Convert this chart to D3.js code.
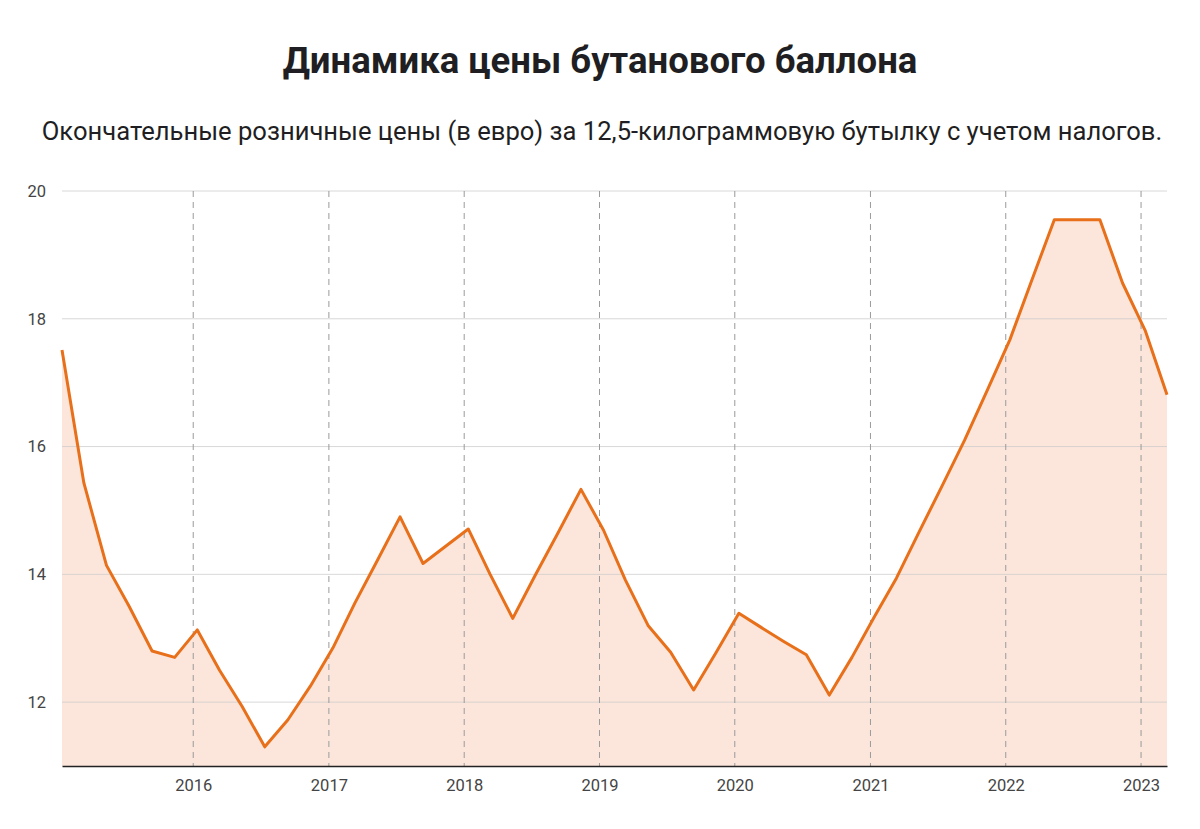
<!DOCTYPE html>
<html>
<head>
<meta charset="utf-8">
<script src="https://cdn.jsdelivr.net/npm/d3@7"></script>
<style>
  body { margin: 0; background: #fff; }
  svg { display: block; font-family: Roboto, "Noto Sans", sans-serif; }
</style>
</head>
<body>
<svg id="chart" width="1200" height="829"></svg>
<script>
// bimonthly price revisions (Jan, Mar, May, Jul, Sep, Nov)
const startYear = 2015;
const prices = [
  17.51, 15.43, 14.14, 13.50, 12.80, 12.70,
  13.13, 12.50, 11.93, 11.30, 11.72, 12.25,
  12.85, 13.55, 14.22, 14.90, 14.17, 14.44,
  14.71, 14.00, 13.31, 13.99, 14.66, 15.33,
  14.69, 13.91, 13.20, 12.78, 12.19, 12.78,
  13.39, 13.17, 12.95, 12.74, 12.11, 12.70,
  13.34, 13.94, 14.66, 15.37, 16.10, 16.88,
  17.67, 18.60, 19.55, 19.55, 19.55, 18.56,
  17.82, 16.81
];
const yTicks = [12, 14, 16, 18, 20];
const yearTicks = [2016, 2017, 2018, 2019, 2020, 2021, 2022, 2023];
const title = "Динамика цены бутанового баллона";
const subtitle = "Окончательные розничные цены (в евро) за 12,5-килограммовую бутылку с учетом налогов.";

const data = prices.map((v, i) => ({
  date: new Date(startYear + Math.floor(i / 6), (i % 6) * 2, 12),
  value: v
}));

const svg = d3.select("#chart");
const margin = {left: 62, right: 33, top: 191, bottom: 63};
const width = 1200, height = 829;

const x = d3.scaleTime()
  .domain(d3.extent(data, d => d.date))
  .range([margin.left, width - margin.right]);
const y = d3.scaleLinear()
  .domain([11, 20])
  .range([height - margin.bottom, margin.top]);

// fit heading text to width
function fitText(sel, target) {
  let w = sel.node().getComputedTextLength();
  let fs = parseFloat(sel.attr("font-size"));
  sel.attr("font-size", fs * target / w);
}

let t = svg.append("text")
  .attr("x", 600).attr("y", 73)
  .attr("text-anchor", "middle")
  .attr("font-size", 32).attr("font-weight", 700)
  .attr("fill", "#1f1f23")
  .text(title);
fitText(t, 635);

let st = svg.append("text")
  .attr("x", 602).attr("y", 140)
  .attr("text-anchor", "middle")
  .attr("font-size", 22)
  .attr("fill", "#1f1f23")
  .text(subtitle);
fitText(st, 1121);

// area + line
svg.append("path")
  .datum(data)
  .attr("fill", "#fce6dc")
  .attr("d", d3.area().x(d => x(d.date)).y0(y(11)).y1(d => y(d.value)));

// horizontal grid
svg.append("g")
  .selectAll("line")
  .data(yTicks)
  .join("line")
  .attr("x1", margin.left).attr("x2", width - margin.right)
  .attr("y1", d => y(d)).attr("y2", d => y(d))
  .attr("stroke", "#c8c8c8").attr("stroke-opacity", 0.7)
  .attr("stroke-width", 1);

// vertical dashed year lines
svg.append("g")
  .selectAll("line")
  .data(yearTicks)
  .join("line")
  .attr("x1", d => x(new Date(d, 0, 1))).attr("x2", d => x(new Date(d, 0, 1)))
  .attr("y1", margin.top).attr("y2", height - margin.bottom)
  .attr("stroke", "#9a9a9a")
  .attr("stroke-dasharray", "6,5");

svg.append("path")
  .datum(data)
  .attr("fill", "none")
  .attr("stroke", "#e8701a")
  .attr("stroke-width", 3)
  .attr("stroke-linejoin", "round")
  .attr("d", d3.line().x(d => x(d.date)).y(d => y(d.value)));

// y axis labels
const yAxis = svg.append("g")
  .attr("transform", `translate(${margin.left},0)`)
  .call(d3.axisLeft(y).tickValues(yTicks).tickSize(0).tickPadding(16));
yAxis.select(".domain").remove();
yAxis.selectAll("text").attr("font-size", 16.5).attr("fill", "#444")
  .attr("font-family", "Roboto, sans-serif");

// x axis
const xAxis = svg.append("g")
  .attr("transform", `translate(0,${height - margin.bottom})`)
  .call(d3.axisBottom(x).tickValues(yearTicks.map(d => new Date(d, 0, 1)))
    .tickFormat(d3.timeFormat("%Y")).tickSize(0).tickPadding(13));
xAxis.select(".domain").attr("stroke", "#222").attr("stroke-width", 1.5);
xAxis.selectAll("text").attr("font-size", 16.5).attr("fill", "#444")
  .attr("font-family", "Roboto, sans-serif");
</script>
</body>
</html>
